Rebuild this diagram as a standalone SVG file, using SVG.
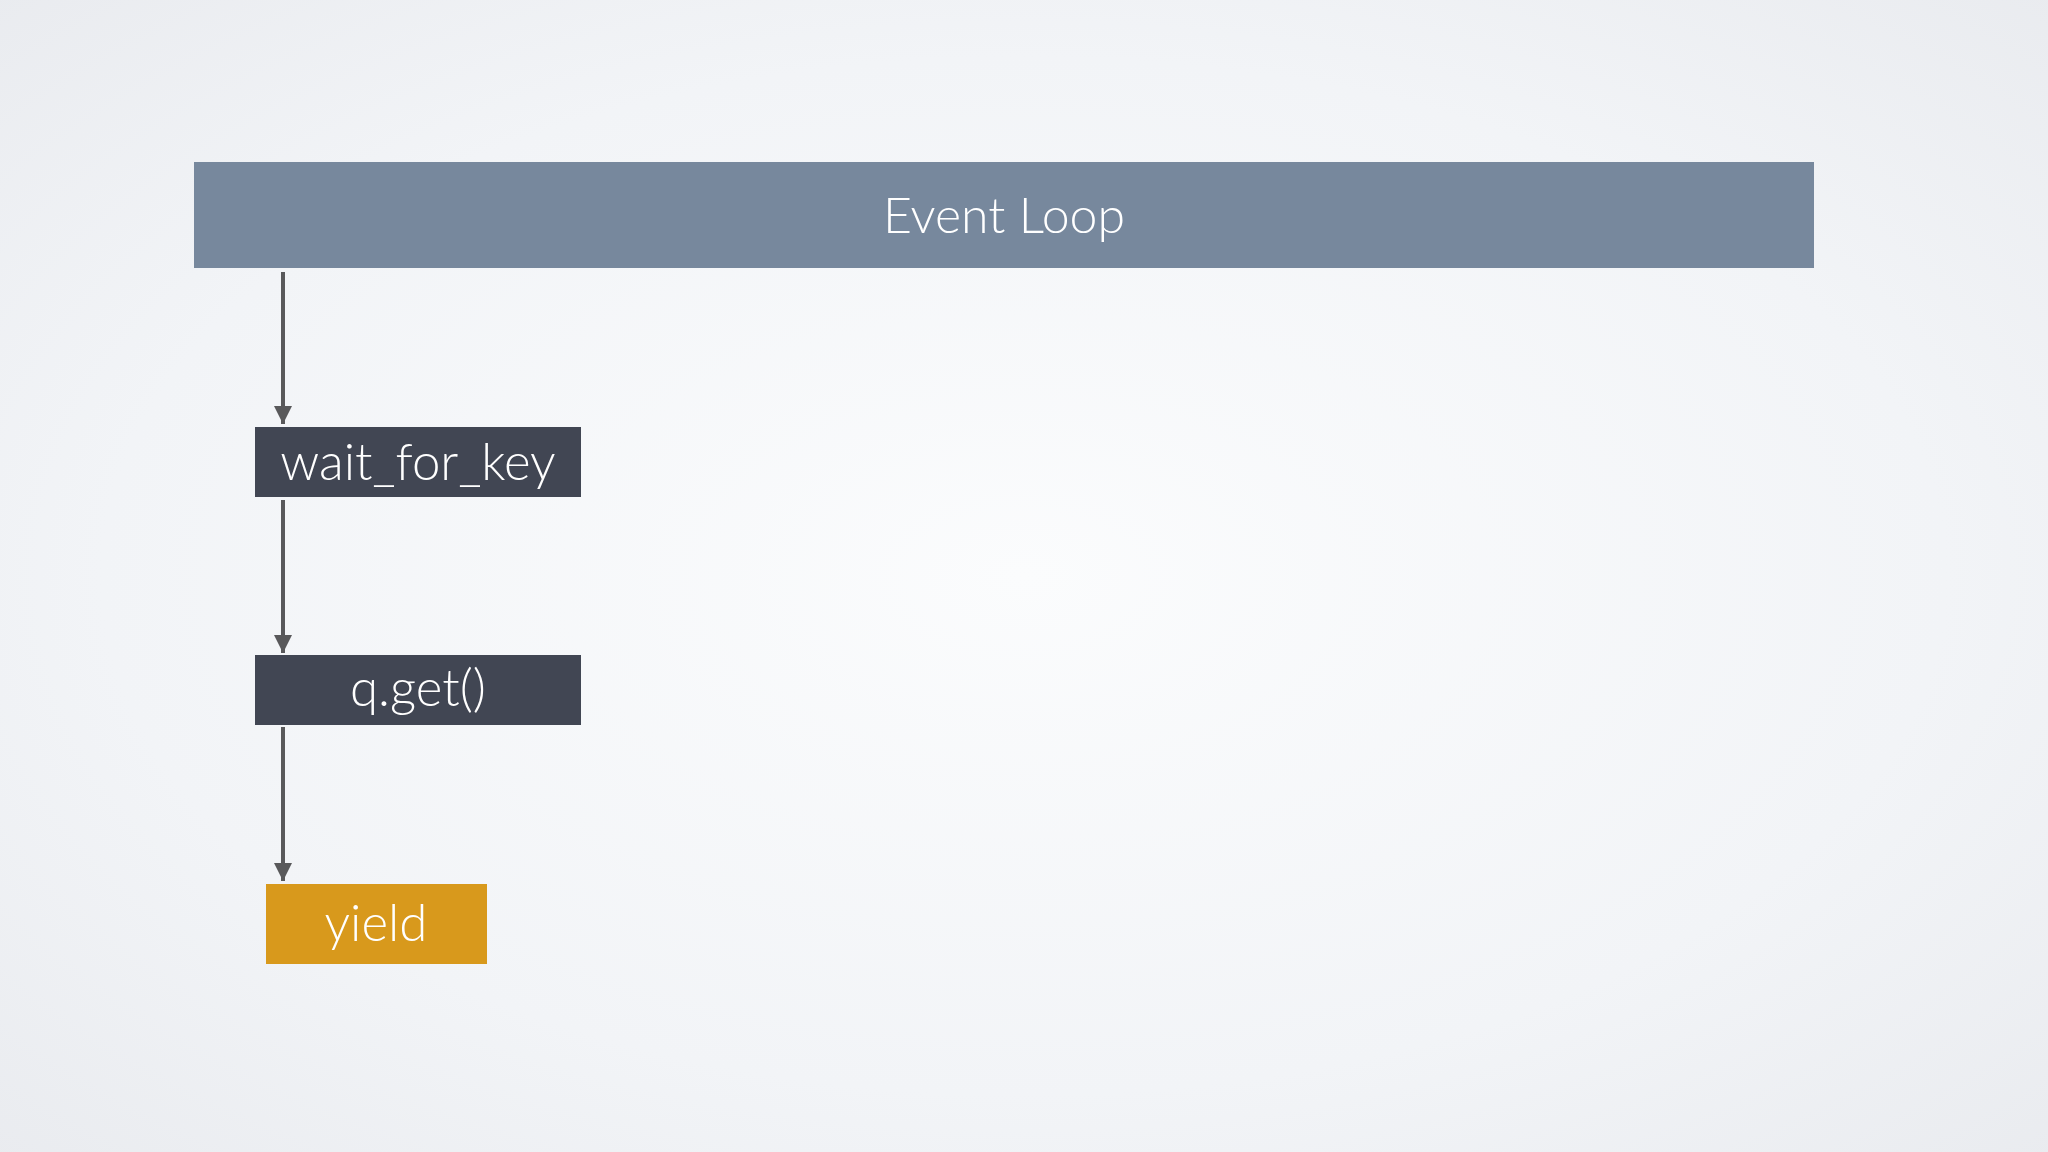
<svg xmlns="http://www.w3.org/2000/svg" width="2048" height="1152" viewBox="0 0 2048 1152">
<defs>
<radialGradient id="bg" cx="0.5" cy="0.5" r="0.75">
<stop offset="0" stop-color="#fbfcfd"/>
<stop offset="0.6" stop-color="#f2f4f7"/>
<stop offset="1" stop-color="#e8eaee"/>
</radialGradient>
<marker id="ah" markerWidth="18" markerHeight="18" refX="18" refY="9" orient="auto" markerUnits="userSpaceOnUse">
<path d="M0,0 L18,9 L0,18 Z" fill="#59595b"/>
</marker>
<style>
.lbl{font-family:Lato,"Open Sans","Liberation Sans",sans-serif;font-weight:300;fill:#ffffff;text-anchor:middle}
.dark{fill:#414653}
.conn{stroke:#59595b;stroke-width:4;fill:none}
</style>
</defs>
<rect width="2048" height="1152" fill="url(#bg)"/>
<g id="event-loop">
<rect x="194" y="162" width="1620" height="106" fill="#77889d"/>
<text class="lbl" x="1004" y="233" font-size="50">Event Loop</text>
</g>
<g id="wait_for_key">
<rect class="dark" x="255" y="427" width="326" height="70"/>
<text class="lbl" x="418" y="480" font-size="51">wait_for_key</text>
</g>
<g id="q_get">
<rect class="dark" x="255" y="655" width="326" height="70"/>
<text class="lbl" x="418" y="706" font-size="51">q.get()</text>
</g>
<g id="yield">
<rect x="266" y="884" width="221" height="80" fill="#d8991c"/>
<text class="lbl" x="376" y="941" font-size="51">yield</text>
</g>
<g id="connectors">
<line class="conn" x1="283" y1="272" x2="283" y2="424" marker-end="url(#ah)"/>
<line class="conn" x1="283" y1="500" x2="283" y2="653" marker-end="url(#ah)"/>
<line class="conn" x1="283" y1="727" x2="283" y2="881" marker-end="url(#ah)"/>
</g>
</svg>
